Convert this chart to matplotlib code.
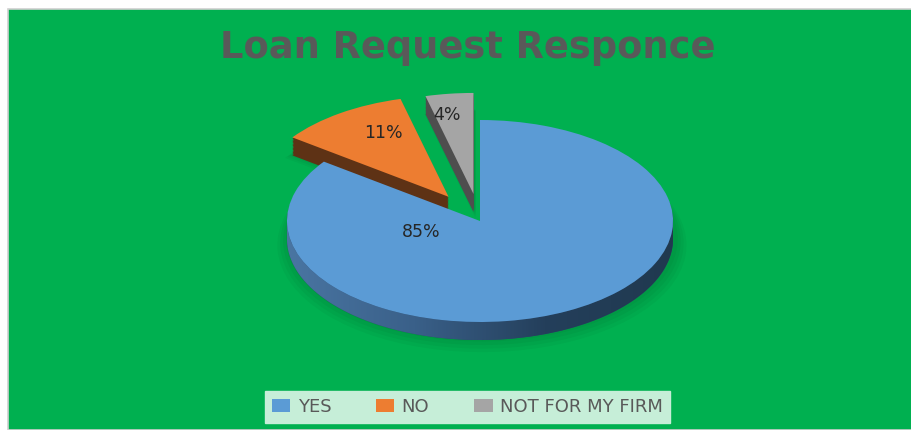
import numpy as np
import matplotlib.pyplot as plt
from matplotlib.patches import Rectangle, Polygon
from matplotlib.colors import LinearSegmentedColormap

# responses to the loan request question
labels = ['YES', 'NO', 'NOT FOR MY FIRM']
shares = [85, 11, 4]
top_colors = ['#5B9BD5', '#ED7D31', '#A5A5A5']
side_colors = ['#2C4B6C', '#5E3215', '#4E4E4E']
explode = [0.0, 0.29, 0.27]

W, H = 912, 430
fig = plt.figure(figsize=(W / 100, H / 100), dpi=100, facecolor='white')

# green chart area with a thin grey frame
fig.patches.append(Rectangle((8 / W, 0), 1 - 8 / W, 1 - 9 / H, transform=fig.transFigure,
                             facecolor='#00B050', edgecolor='#D0D0D0', lw=1.2, zorder=-1))

ax = fig.add_axes([0, 0, 1, 1])
ax.set_facecolor('none')
ax.set_axis_off()

# pie sits in an ellipse: 1 unit = rx px across, ry px down
cx, cy, rx, ry = 480, 221, 193, 101
depth = 18 / ry

# soft shadow below the disc
for k in range(4):
    ax.pie(shares, explode=explode, startangle=90, counterclock=False,
           radius=1 + 0.015 * (k + 1), center=(0.01, -depth - 0.02 * k),
           colors=['#004d20'] * 3, wedgeprops=dict(alpha=0.06, lw=0), frame=True)

# extruded side walls
for d in np.linspace(depth, 0, 14)[:-1]:
    ax.pie(shares, explode=explode, startangle=90, counterclock=False,
           center=(0, -d), colors=side_colors, wedgeprops=dict(lw=0), frame=True)

# shaded front rim of the big slice (lighter on the left, dark on the right)
t = np.linspace(np.pi, 2 * np.pi, 200)
rim = np.vstack([np.c_[np.cos(t), np.sin(t)],
                 np.c_[np.cos(t[::-1]), np.sin(t[::-1]) - depth]])
rim_patch = Polygon(rim, closed=True, facecolor='none', edgecolor='none')
ax.add_patch(rim_patch)
rim_cmap = LinearSegmentedColormap.from_list(
    'rim', ['#4A76A3', '#3A6089', '#243F5B', '#20394F'])
grad = ax.imshow(np.linspace(0, 1, 256)[None, :], cmap=rim_cmap, aspect='auto',
                 extent=(-1.02, 1.02, -1 - depth - 0.02, 0.05), zorder=1.5)
grad.set_clip_path(rim_patch)

wedges, _ = ax.pie(shares, explode=explode, startangle=90, counterclock=False,
                   colors=top_colors, wedgeprops=dict(lw=0, zorder=2), frame=True)

ax.set_xlim(-cx / rx, (W - cx) / rx)
ax.set_ylim(-(H - cy) / ry, cy / ry)
ax.set_aspect('auto')
ax.set_axis_off()

# percentage labels
label_pos = [(421, 232), (383, 133), (447, 115)]
for (px, py), v in zip(label_pos, shares):
    ax.text((px - cx) / rx, (cy - py) / ry, f'{v}%', ha='center', va='center',
            fontsize=12.5, color='#262626', family='DejaVu Sans', zorder=3)

fig.text(0.513, 1 - 48 / H, 'Loan Request Responce', ha='center', va='center',
         fontsize=26.5, fontweight='bold', color='#595959', family='DejaVu Sans')

leg = fig.legend(wedges, labels, loc='center', bbox_to_anchor=(0.5126, 23 / H), ncol=3,
                 frameon=True, fancybox=False, facecolor='#C6EED8', edgecolor='#C6EED8',
                 framealpha=1, handlelength=1.0, handleheight=0.75, handletextpad=0.4,
                 columnspacing=2.5, borderpad=0.4,
                 prop=dict(family='DejaVu Sans', size=13))
for txt in leg.get_texts():
    txt.set_color('#595959')

fig.savefig('out.png', dpi=100, facecolor='white')
